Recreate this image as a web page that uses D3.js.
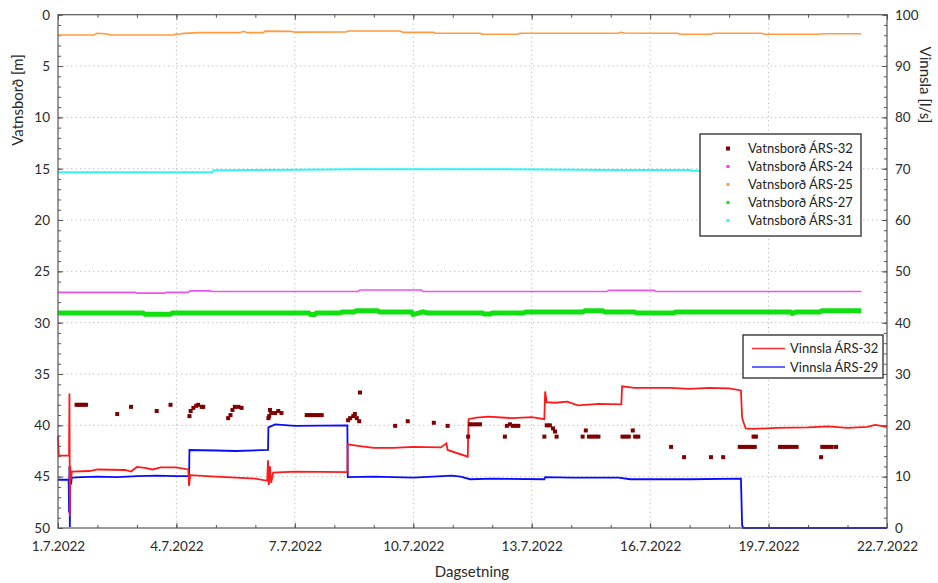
<!DOCTYPE html>
<html>
<head>
<meta charset="utf-8">
<script src="https://cdn.jsdelivr.net/npm/d3@7"></script>
<style>
  body { margin: 0; background: #fff; }
  text { font-family: Lato, "Open Sans", sans-serif; }
</style>
</head>
<body>
<svg id="chart" width="938" height="583"></svg>
<script>
// days since 1.7.2022 00:00, value
const vatn32 = [
  [0.47,38.0],[0.53,38.0],[0.59,38.0],[0.65,38.0],[0.71,38.0],
  [1.50,38.9],[1.85,38.2],[2.50,38.6],[2.85,38.0],
  [3.33,39.1],[3.36,38.6],[3.43,38.3],[3.50,38.1],[3.55,38.0],[3.64,38.2],[3.68,38.2],
  [4.31,39.3],[4.37,39.0],[4.42,38.5],[4.48,38.2],[4.57,38.2],[4.65,38.3],
  [5.33,39.3],[5.35,39.1],[5.37,38.5],[5.40,38.8],[5.50,38.8],[5.58,38.6],[5.66,38.8],
  [6.30,39.0],[6.38,39.0],[6.46,39.0],[6.54,39.0],[6.62,39.0],[6.68,39.0],[6.34,39.0],
  [7.35,39.5],[7.40,39.3],[7.48,39.1],[7.52,38.9],[7.57,39.3],[7.63,39.6],[7.65,36.8],
  [8.54,40.05],[8.86,39.6],[9.52,39.75],[9.87,40.05],
  [10.39,41.1],[10.44,39.9],[10.52,39.9],[10.60,39.9],[10.69,39.9],
  [11.32,41.1],[11.37,40.05],[11.45,39.9],[11.52,40.05],[11.59,40.05],[11.66,40.05],
  [12.32,41.1],[12.38,40.0],[12.46,40.0],[12.54,40.3],[12.59,40.6],[12.63,41.1],
  [13.29,41.1],[13.37,40.5],[13.45,41.1],[13.53,41.1],[13.61,41.1],[13.69,41.1],
  [14.30,41.1],[14.38,41.1],[14.46,41.1],[14.56,40.5],[14.62,41.1],[14.70,41.1],
  [15.53,42.1],[15.86,43.1],[16.54,43.1],[16.85,43.1],
  [17.27,42.1],[17.35,42.1],[17.43,42.1],[17.51,42.1],[17.58,42.1],[17.65,42.1],
  [17.62,41.1],[17.68,41.1],
  [18.29,42.1],[18.37,42.1],[18.45,42.1],[18.53,42.1],[18.62,42.1],[18.71,42.1],
  [19.33,43.1],[19.36,42.1],[19.44,42.1],[19.52,42.1],[19.60,42.1],[19.71,42.1]
];

const vatn24 = [
  [0,27.05],[1.95,27.05],[2.0,27.12],[2.7,27.12],[2.75,27.05],[3.3,27.05],[3.35,26.9],
  [3.85,26.9],[3.9,26.97],[7.6,26.97],[7.65,26.82],[9.2,26.82],[9.25,26.97],
  [13.9,26.97],[13.95,26.85],[15.1,26.85],[15.15,26.97],[20.35,26.97]
];

const vatn25 = [
  [0,1.98],[0.9,1.98],[1.0,1.82],[1.2,1.85],[1.35,1.98],[2.9,1.98],[3.0,1.9],[3.2,1.82],
  [3.55,1.75],[4.6,1.75],[4.7,1.62],[4.8,1.75],[5.2,1.75],[5.25,1.6],[5.9,1.62],[6.0,1.7],
  [7.3,1.69],[7.35,1.59],[8.67,1.59],[8.74,1.72],[9.5,1.72],[9.55,1.81],[10.7,1.81],
  [10.74,1.9],[11.63,1.9],[11.7,1.81],[14.2,1.81],[14.25,1.72],[14.35,1.78],[15.0,1.8],
  [15.7,1.8],[15.75,1.9],[16.55,1.9],[16.6,1.8],[17.8,1.8],[17.9,1.9],[19.3,1.9],
  [19.35,1.85],[20.35,1.85]
];

const vatn27 = [
  [0,29.05],[2.15,29.05],[2.2,29.17],[2.85,29.17],[2.9,29.05],[6.35,29.05],[6.4,29.2],
  [6.5,29.2],[6.55,29.05],[7.15,29.05],[7.2,28.95],[7.5,28.95],[7.55,28.85],[8.1,28.85],
  [8.15,28.95],[8.95,28.95],[9.0,29.2],[9.1,29.1],[9.25,28.95],[9.35,29.05],[10.75,29.05],
  [10.8,29.15],[10.95,29.15],[11.0,29.05],[11.8,29.05],[11.85,28.95],[13.3,28.95],
  [13.35,28.85],[13.8,28.85],[13.85,28.95],[14.6,28.95],[14.65,29.05],[15.6,29.05],
  [15.65,28.95],[18.55,28.95],[18.6,29.1],[18.7,28.95],[19.3,28.95],[19.35,28.85],[20.35,28.85]
];

const vatn31 = [
  [0,15.35],[3.9,15.35],[3.95,15.15],[6,15.1],[7.5,15.05],[11,15.05],[14.2,15.12],
  [16,15.12],[16.05,15.2],[20.35,15.2]
];

const vinnsla32 = [
  [0,18.0],[0.02,14.1],[0.28,14.1],[0.29,26.2],[0.30,2.3],[0.31,12.0],[0.33,9.5],[0.35,11.0],
  [0.8,11.1],[1.0,11.4],[1.7,11.3],[1.85,11.0],[2.0,11.9],[2.2,11.7],[2.4,11.4],[2.6,11.8],
  [3.0,11.8],[3.3,11.4],[3.32,8.2],[3.35,10.3],[4.0,10.0],[4.5,9.8],[5.0,9.6],[5.3,9.2],
  [5.32,13.2],[5.34,8.4],[5.37,12.0],[5.40,8.8],[5.45,10.8],[6.0,11.0],[7.33,10.9],
  [7.34,16.3],[7.6,16.0],[8.0,15.6],[8.5,15.6],[9.0,15.8],[9.7,15.7],[9.84,16.5],
  [9.87,15.2],[10.38,13.9],[10.40,21.2],[10.6,21.5],[10.9,21.7],[11.5,21.4],[12.0,21.6],
  [12.32,21.2],[12.34,26.6],[12.38,24.5],[12.6,24.4],[12.9,24.6],[13.17,23.9],[13.7,24.2],
  [14.27,24.1],[14.29,27.6],[14.6,27.3],[15.5,27.3],[16.0,27.1],[16.5,27.3],[17.0,27.2],
  [17.3,26.8],[17.33,21.5],[17.37,20.5],[17.42,19.4],[17.6,19.3],[18.2,19.5],[19.0,19.6],
  [19.5,19.8],[20.0,19.5],[20.5,19.7],[20.7,20.1],[21,19.7]
];

const vinnsla29 = [
  [0,9.4],[0.27,9.4],[0.28,3.0],[0.29,12.0],[0.30,0.2],[0.31,10.5],[0.33,8.5],[0.35,9.8],
  [0.6,9.9],[1.0,10.0],[1.5,9.9],[2.0,10.1],[2.5,10.2],[3.0,10.1],[3.32,10.1],[3.33,15.2],
  [4.0,15.1],[4.5,15.0],[5.32,15.2],[5.33,19.6],[5.5,20.2],[6.0,19.9],[7.33,20.0],
  [7.34,9.9],[8.0,10.0],[9.0,9.8],[9.97,10.2],[10.2,10.0],[10.44,9.5],[11.0,9.6],
  [12.32,9.5],[12.34,9.9],[13.0,9.8],[14.2,9.8],[14.5,9.5],[16.0,9.5],[17.3,9.6],
  [17.33,0.5],[17.36,0],[21,0]
];

const leftTicks = [0, 5, 10, 15, 20, 25, 30, 35, 40, 45, 50];
const rightTicks = [0, 10, 20, 30, 40, 50, 60, 70, 80, 90, 100];
const dayTicks = [0, 3, 6, 9, 12, 15, 18, 21];
const leftLegend = ["Vatnsborð ÁRS-32", "Vatnsborð ÁRS-24", "Vatnsborð ÁRS-25", "Vatnsborð ÁRS-27", "Vatnsborð ÁRS-31"];
const rightLegend = ["Vinnsla ÁRS-32", "Vinnsla ÁRS-29"];

const start = new Date(2022, 6, 1);
const toDate = d => new Date(start.getTime() + d * 86400000);

const svg = d3.select('#chart');
const x = d3.scaleTime().domain([toDate(0), toDate(21)]).range([58, 887]);
const yL = d3.scaleLinear().domain([0, 50]).range([14.7, 528]);
const yR = d3.scaleLinear().domain([0, 100]).range([528, 14.7]);

// grid
const grid = svg.append('g').attr('stroke', '#b8b8b8').attr('stroke-dasharray', '1.2,3.2');
grid.selectAll('.gv').data(dayTicks.slice(1, -1)).join('line')
    .attr('x1', d => x(toDate(d))).attr('x2', d => x(toDate(d)))
    .attr('y1', yL(0)).attr('y2', yL(50));
grid.selectAll('.gh').data(leftTicks.slice(1, -1)).join('line')
    .attr('x1', x(toDate(0))).attr('x2', x(toDate(21)))
    .attr('y1', d => yL(d)).attr('y2', d => yL(d));

// axes
const fmt = d3.timeFormat('%-d.%-m.%Y');
const allDays = d3.range(0, 22);
function styleAxis(g) {
  g.select('.domain').remove();
  g.selectAll('line').attr('stroke', '#555');
  g.selectAll('text').attr('fill', '#2a2a2a').style('font-size', '13.5px').style('font-family', 'Lato, sans-serif');
}
svg.append('g').attr('transform', `translate(0,${yL(50)})`)
    .call(d3.axisBottom(x).tickValues(allDays.map(toDate)).tickSize(-3).tickFormat(''))
    .call(styleAxis);
svg.append('g').attr('transform', `translate(0,${yL(50)})`)
    .call(d3.axisBottom(x).tickValues(dayTicks.map(toDate)).tickSize(-5).tickPadding(13).tickFormat(fmt))
    .call(styleAxis);
svg.append('g').attr('transform', `translate(0,${yL(0)})`)
    .call(d3.axisTop(x).tickValues(allDays.map(toDate)).tickSize(-3).tickFormat(''))
    .call(styleAxis);
svg.append('g').attr('transform', `translate(0,${yL(0)})`)
    .call(d3.axisTop(x).tickValues(dayTicks.map(toDate)).tickSize(-5).tickFormat(''))
    .call(styleAxis);
svg.append('g').attr('transform', `translate(${x(toDate(0))},0)`)
    .call(d3.axisLeft(yL).tickValues(d3.range(0, 51)).tickSize(-3).tickFormat(''))
    .call(styleAxis);
svg.append('g').attr('transform', `translate(${x(toDate(0))},0)`)
    .call(d3.axisLeft(yL).tickValues(leftTicks).tickSize(-5).tickPadding(8))
    .call(styleAxis);
svg.append('g').attr('transform', `translate(${x(toDate(21))},0)`)
    .call(d3.axisRight(yR).tickValues(d3.range(0, 101, 2)).tickSize(-3).tickFormat(''))
    .call(styleAxis);
svg.append('g').attr('transform', `translate(${x(toDate(21))},0)`)
    .call(d3.axisRight(yR).tickValues(rightTicks).tickSize(-5).tickPadding(8))
    .call(styleAxis);

// water level lines
const lineL = d3.line().x(d => x(toDate(d[0]))).y(d => yL(d[1]));
const lineR = d3.line().x(d => x(toDate(d[0]))).y(d => yR(d[1]));

svg.append('path').datum(vatn25).attr('d', lineL).attr('fill', 'none').attr('stroke', '#ff9a40').attr('stroke-width', 1.6);
svg.append('path').datum(vatn31).attr('d', lineL).attr('fill', 'none').attr('stroke', '#33f5f5').attr('stroke-width', 2);
svg.append('path').datum(vatn24).attr('d', lineL).attr('fill', 'none').attr('stroke', '#f050f0').attr('stroke-width', 1.6);
svg.append('path').datum(vatn27).attr('d', lineL).attr('fill', 'none').attr('stroke', '#10e010').attr('stroke-width', 5);

// pumping lines
svg.append('path').datum(vinnsla29).attr('d', lineR).attr('fill', 'none').attr('stroke', '#0a0aff').attr('stroke-width', 1.8);
svg.append('path').datum(vinnsla32).attr('d', lineR).attr('fill', 'none').attr('stroke', '#ff1a1a').attr('stroke-width', 1.8);

// ÁRS-32 points
svg.append('g').selectAll('rect').data(vatn32).join('rect')
    .attr('x', d => x(toDate(d[0])) - 2).attr('y', d => yL(d[1]) - 2)
    .attr('width', 4).attr('height', 4).attr('fill', '#800000');

// frame
svg.append('rect').attr('x', x(toDate(0))).attr('y', yL(0))
    .attr('width', x(toDate(21)) - x(toDate(0))).attr('height', yL(50) - yL(0))
    .attr('fill', 'none').attr('stroke', '#555').attr('stroke-width', 1.2);

// axis titles
svg.append('text').attr('x', 472).attr('y', 577).attr('text-anchor', 'middle')
    .style('font-size', '15px').attr('fill', '#2a2a2a').text('Dagsetning');
svg.append('text').attr('transform', 'translate(23,100) rotate(-90)').attr('text-anchor', 'middle')
    .style('font-size', '15px').attr('fill', '#2a2a2a').text('Vatnsborð [m]');
svg.append('text').attr('transform', 'translate(920,85) rotate(90)').attr('text-anchor', 'middle')
    .style('font-size', '15px').attr('fill', '#2a2a2a').text('Vinnsla [l/s]');

// legend 1
const colorsL = ['#800000', '#ff33ff', '#ff9a40', '#10e010', '#33f5f5'];
const lg1 = svg.append('g');
lg1.append('rect').attr('x', 700).attr('y', 134).attr('width', 161).attr('height', 102)
    .attr('fill', '#fff').attr('stroke', '#444').attr('stroke-width', 1.5);
const rows1 = lg1.selectAll('.row').data(leftLegend).join('g')
    .attr('transform', (d, i) => `translate(0,${148.5 + i * 18})`);
rows1.append('rect').attr('x', (d, i) => i === 0 ? 726 : 726.5).attr('y', (d, i) => i === 0 ? -2 : -1.5)
    .attr('width', (d, i) => i === 0 ? 4 : 3).attr('height', (d, i) => i === 0 ? 4 : 3)
    .attr('fill', (d, i) => colorsL[i]);
rows1.append('text').attr('x', 748).attr('dy', '0.35em').style('font-size', '13px')
    .attr('fill', '#222').text(d => d);

// legend 2
const colorsR = ['#ff3030', '#3030ff'];
const lg2 = svg.append('g');
lg2.append('rect').attr('x', 743).attr('y', 335).attr('width', 140).attr('height', 43)
    .attr('fill', '#fff').attr('stroke', '#444').attr('stroke-width', 1.5);
const rows2 = lg2.selectAll('.row').data(rightLegend).join('g')
    .attr('transform', (d, i) => `translate(0,${348.5 + i * 18.5})`);
rows2.append('line').attr('x1', 752).attr('x2', 785).attr('stroke', (d, i) => colorsR[i]).attr('stroke-width', 1.5);
rows2.append('text').attr('x', 790).attr('dy', '0.35em').style('font-size', '13px')
    .attr('fill', '#222').text(d => d);
</script>
</body>
</html>
